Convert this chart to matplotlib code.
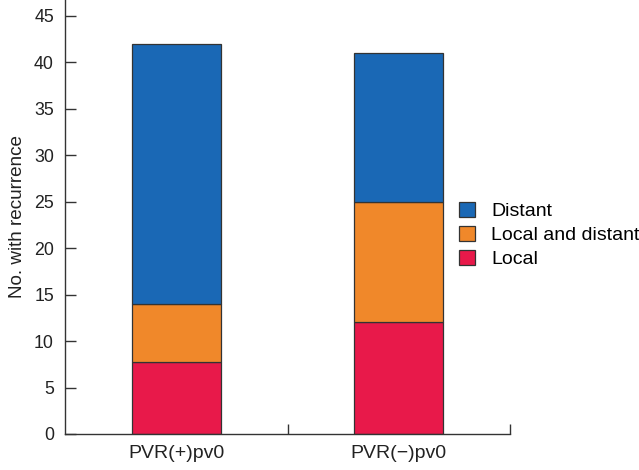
import matplotlib
matplotlib.use("Agg")
import matplotlib.pyplot as plt
import numpy as np

plt.rcParams["font.family"] = ["Liberation Sans", "DejaVu Sans"]

groups = ["PVR(+)pv0", "PVR(\u2212)pv0"]
local = [7.8, 12]
local_distant = [6.2, 13]
distant = [28, 16]

series_labels = ["Local", "Local and distant", "Distant"]
colours = ["#e8194a", "#f0882a", "#1a68b5"]

fig = plt.figure(figsize=(6.39, 4.70), dpi=100)
ax = fig.add_axes([65 / 639, 36 / 470, 445 / 639, 434 / 470])

x = np.arange(len(groups))
bottom = np.zeros(len(groups))
handles = []
for vals, lab, col in zip([local, local_distant, distant], series_labels, colours):
    b = ax.bar(x, vals, width=0.4, bottom=bottom, color=col,
               edgecolor="#333333", linewidth=0.9, label=lab)
    handles.append(b)
    bottom += np.array(vals)

ax.set_xlim(-0.5, 1.5)
ax.set_ylim(0, 46.7)
ax.set_yticks(np.arange(0, 46, 5))
ax.set_xticks(x)
ax.set_xticklabels(groups, fontsize=14, color="#222222")
ax.set_xticks([0.5, 1.5], minor=True)
ax.tick_params(axis="x", which="major", length=0, pad=8)
ax.tick_params(axis="x", which="minor", direction="in", length=7.2, width=1, color="#333333")
ax.tick_params(axis="y", direction="in", length=8, width=1, labelsize=12.8,
               color="#333333", labelcolor="#222222", pad=8)

for side in ["top", "right"]:
    ax.spines[side].set_visible(False)
for side in ["left", "bottom"]:
    ax.spines[side].set_color("#333333")
    ax.spines[side].set_linewidth(1)

ax.set_ylabel("No. with recurrence", fontsize=13.6, color="#222222", labelpad=6)

leg = fig.legend(handles[::-1], series_labels[::-1], loc="center left",
                 bbox_to_anchor=(459 / 639, 1 - 235 / 470),
                 bbox_transform=fig.transFigure, frameon=False,
                 fontsize=14, handlelength=0.8, handleheight=0.8,
                 handletextpad=0.85, labelspacing=0.3, borderpad=0, borderaxespad=0)

fig.savefig("out.png", dpi=100)
